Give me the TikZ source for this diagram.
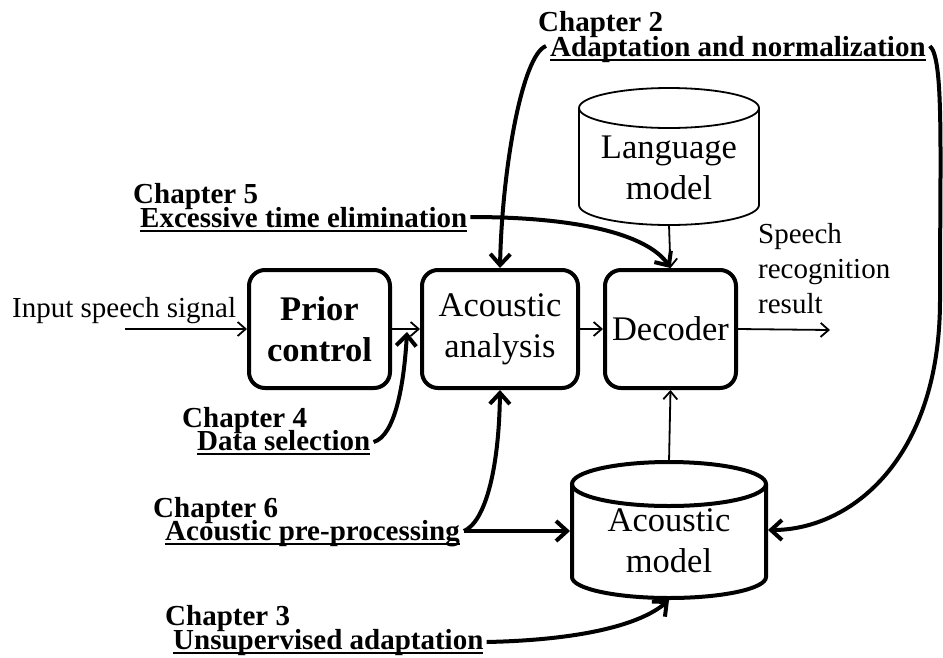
\documentclass[tikz,border=0pt]{standalone}
\usepackage{fontspec}
\setmainfont{Liberation Serif}
\usetikzlibrary{arrows.meta,calc}
% underlined chapter title: rule 3pt-5pt below the baseline
\newcommand\chapul[1]{\setbox0\hbox{#1}\rlap{\rule[-5pt]{\wd0}{2pt}}\box0}
\begin{document}
\begin{tikzpicture}[x=1pt,y=-1pt,
  block/.style={draw,line width=4pt,rounded corners=16pt,minimum height=118pt,
    inner sep=0pt,align=center,font=\fontsize{34.5}{41}\selectfont},
  cyltext/.style={inner sep=0pt,align=center,font=\fontsize{34.5}{41}\selectfont},
  lbl/.style={inner sep=0pt,font=\fontsize{29}{35}\selectfont},
  chap/.style={inner sep=0pt,anchor=base west,font=\fontsize{29}{35}\selectfont\bfseries},
  thinarrow/.style={line width=1.8pt,-{Straight Barb[length=8pt,width=14pt]}},
  thickarrow/.style={line width=4pt,-{Straight Barb[length=11pt,width=20pt]}},
  thinline/.style={line width=1.8pt},
  thickline/.style={line width=4pt},
]
\useasboundingbox (0,0) rectangle (943,657);

% processing blocks
\node[block,minimum width=141pt,font=\fontsize{34.5}{41}\selectfont\bfseries] (prior) at (319.5,329) {Prior\\control};
\node[block,minimum width=156pt] (aa) at (500,329) {Acoustic\\analysis};
\node[block,minimum width=131pt] (dec) at (670.5,329) {Decoder};

% language model database
\draw[thinline] (669,108) ellipse [x radius=90pt, y radius=20pt];
\draw[thinline] (579,108) -- (579,205)
  arc[start angle=180,end angle=360,x radius=90pt,y radius=20pt] -- (759,108);
\node[cyltext] (lm) at (669,167.5) {Language\\model};
\coordinate (lmb) at (669,225);

% acoustic model database
\draw[thickline] (669,484) ellipse [x radius=97pt, y radius=22pt];
\draw[thickline] (572,484) -- (572,577)
  arc[start angle=180,end angle=360,x radius=97pt,y radius=21pt] -- (766,484);
\node[cyltext] (am) at (669,541) {Acoustic\\model};
\coordinate (amt) at (669,462);
\coordinate (amw) at (570,531);
\coordinate (ame) at (768,530);
\coordinate (amb) at (669,600);

% input / output
\node[lbl,anchor=base west] (inlbl) at (12,317) {Input speech signal};
\coordinate (insrc) at (125,329);
\node[lbl,anchor=north west,align=left] (outlbl) at (758,223.2) {Speech\\recognition\\result};
\coordinate (out) at (830,330);

\draw[thinarrow] (insrc) -- (prior.west);
\draw[thinarrow] (prior.east) -- (aa.west);
\draw[thinarrow] (aa.east) -- (dec.west);
\draw[thinarrow] (dec.east) -- (out);
\draw[thinarrow] (lmb) -- (dec.north);
\draw[thinarrow] (amt) -- (dec.south);

% chapter labels
\node[chap] (ch2) at (538,31) {Chapter 2};
\node[chap] (ch2t) at (550,56) {\chapul{Adaptation and normalization}};
\node[chap] (ch5) at (133,203) {Chapter 5};
\node[chap] (ch5t) at (140,227) {\chapul{Excessive time elimination}};
\node[chap] (ch4) at (182,427) {Chapter 4};
\node[chap] (ch4t) at (197,450) {\chapul{Data selection}};
\node[chap] (ch6) at (153,517) {Chapter 6};
\node[chap] (ch6t) at (165,540) {\chapul{Acoustic pre-processing}};
\node[chap] (ch3) at (165,625) {Chapter 3};
\node[chap] (ch3t) at (173,649) {\chapul{Unsupervised adaptation}};

\coordinate (j4) at (407,332);

% chapter connectors
\draw[thickarrow] ([shift={(-4,-10)}]ch2t.base west)
  .. controls (522,55) and (502,170) .. (aa.north);
\draw[thickarrow] ([shift={(4,-10)}]ch2t.base east)
  .. controls (944,58) and (940,150) .. (940,300)
  .. controls (940,460) and (850,530) .. (ame);
\draw[thickarrow] ([shift={(3,-10)}]ch5t.base east)
  .. controls (590,217) and (650,238) .. (dec.north);
\draw[thickarrow] ([shift={(3,-8)}]ch4t.base east)
  .. controls (395,436) and (404,385) .. (j4);
\draw[thickarrow] ([shift={(4,-9)}]ch6t.base east) coordinate (s6) -- (amw);
\draw[thickarrow] (s6) .. controls (485,522) and (499,470) .. (aa.south);
\draw[thickarrow] ([shift={(3,-7)}]ch3t.base east)
  .. controls (580,640) and (640,625) .. (amb);
\end{tikzpicture}
\end{document}
